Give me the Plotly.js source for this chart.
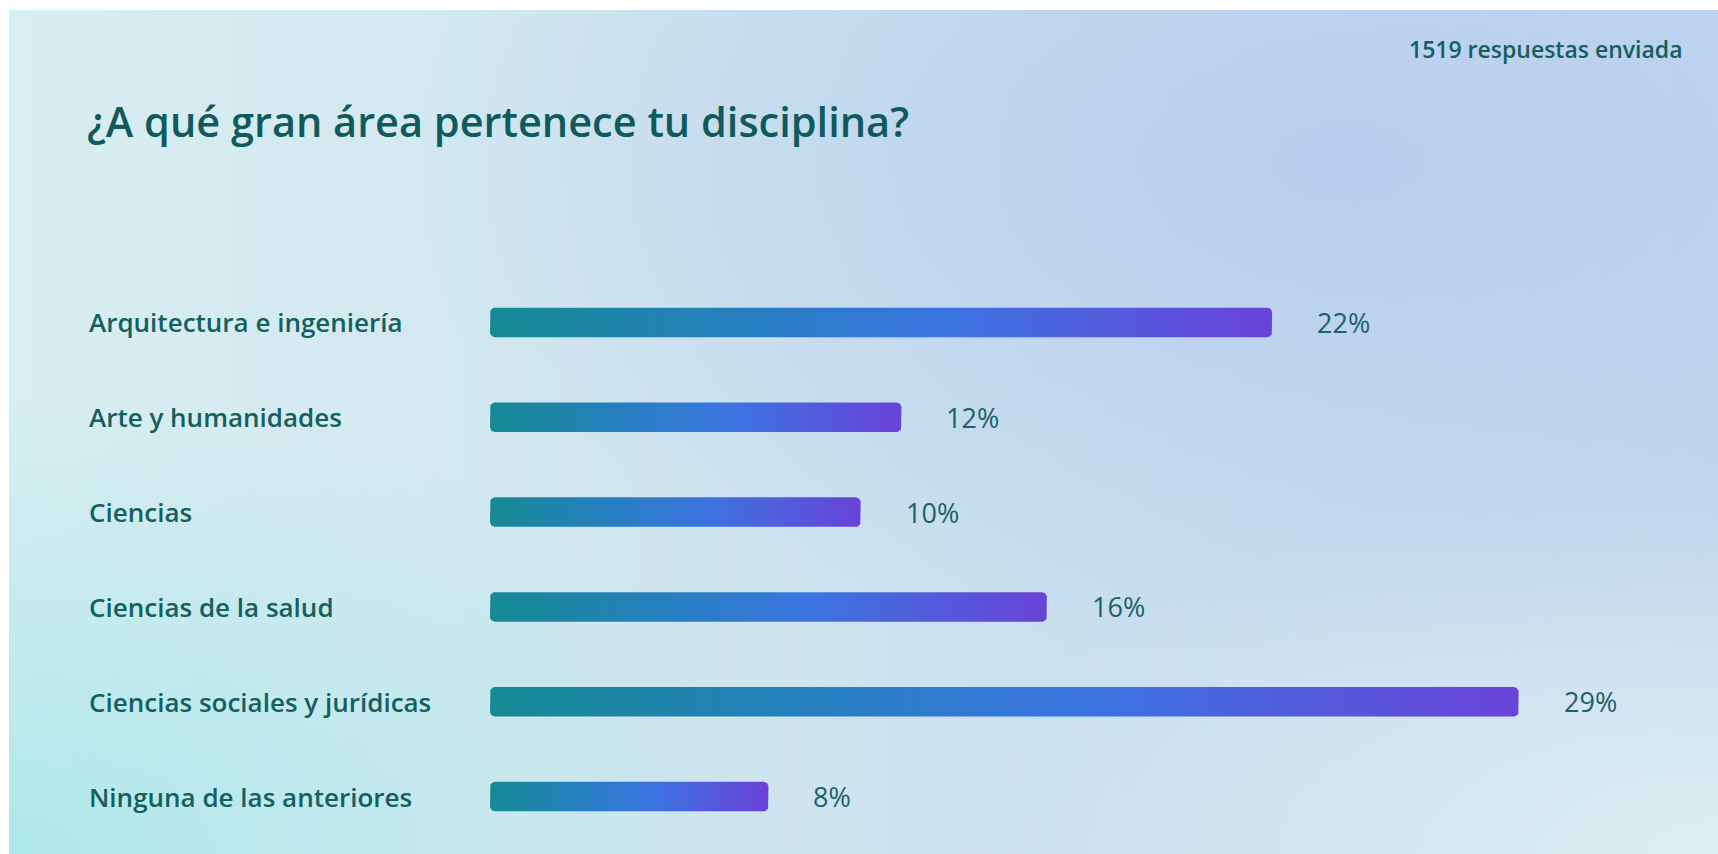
<!DOCTYPE html>
<html>
<head>
<meta charset="utf-8">
<script src="https://cdn.plot.ly/plotly-3.0.1.min.js"></script>
<style>
  html, body { margin: 0; padding: 0; background: #ffffff; }
  #wrap { position: relative; width: 1718px; height: 854px; overflow: hidden; }
  #bg {
    position: absolute; left: 9px; top: 10px; right: 0; bottom: 0;
    background:
      radial-gradient(ellipse 55% 60% at 78% 18%, rgba(184,206,238,1) 0%, rgba(184,206,238,0) 100%),
      radial-gradient(ellipse 45% 55% at 0% 100%, rgba(176,232,235,1) 0%, rgba(176,232,235,0) 100%),
      radial-gradient(ellipse 45% 45% at 100% 100%, rgba(222,238,242,1) 0%, rgba(222,238,242,0) 100%),
      linear-gradient(90deg, #d9eef1 0%, #cde3ee 50%, #c2d7ee 100%);
  }
  #chart { position: absolute; left: 0; top: 0; width: 1718px; height: 854px; }
</style>
</head>
<body>
<div id="wrap"><div id="bg"></div><div id="chart"></div></div>
<script>
// ---- data ----
const categories = [
  "Arquitectura e ingeniería",
  "Arte y humanidades",
  "Ciencias",
  "Ciencias de la salud",
  "Ciencias sociales y jurídicas",
  "Ninguna de las anteriores"
];
const percentages = [22.05, 11.6, 10.45, 15.7, 29.0, 7.85];
const titleText = "¿A qué gran área pertenece tu disciplina?";
const responsesText = "1519 respuestas enviada";

// ---- layout geometry ----
const W = 1718, H = 854;
const M = { l: 490, r: 0, t: 275, b: 10 };
const plotW = W - M.l - M.r;
const plotH = H - M.t - M.b;
const xMax = 34.62;
const yRange = [categories.length - 0.5, -0.5];
const pxX = plotW / xMax;
const pxY = plotH / categories.length;
const barHpx = 29.5;
const radiusPx = 5;

const textColor = "#14605f";
const fontFam = "'Open Sans', 'Noto Sans', sans-serif";

function roundedBar(val, yi) {
  const hh = (barHpx / 2) / pxY;
  const rx = radiusPx / pxX, ry = radiusPx / pxY;
  const x0 = 0, x1 = val, y0 = yi - hh, y1 = yi + hh;
  const xs = [], ys = [];
  const n = 8;
  const corner = (cx, cy, a0, a1) => {
    for (let k = 0; k <= n; k++) {
      const a = a0 + (a1 - a0) * k / n;
      xs.push(cx + rx * Math.cos(a));
      ys.push(cy + ry * Math.sin(a));
    }
  };
  corner(x1 - rx, y0 + ry, -Math.PI / 2, 0);
  corner(x1 - rx, y1 - ry, 0, Math.PI / 2);
  corner(x0 + rx, y1 - ry, Math.PI / 2, Math.PI);
  corner(x0 + rx, y0 + ry, Math.PI, 1.5 * Math.PI);
  xs.push(xs[0]); ys.push(ys[0]);
  return { xs, ys };
}

const gradScale = [
  [0, "#168a94"],
  [0.3, "#2580bd"],
  [0.58, "#3b74e1"],
  [1, "#6a42d8"]
];

const traces = percentages.map((v, i) => {
  const p = roundedBar(v, i);
  return {
    type: "scatter",
    mode: "lines",
    x: p.xs,
    y: p.ys,
    fill: "toself",
    line: { width: 0, color: "rgba(0,0,0,0)" },
    fillgradient: { type: "horizontal", colorscale: gradScale },
    hoverinfo: "skip",
    showlegend: false
  };
});

const annotations = [];
categories.forEach((c, i) => {
  annotations.push({
    xref: "paper", yref: "y",
    x: (87 - M.l) / plotW, y: i,
    xanchor: "left", yanchor: "middle",
    text: c, showarrow: false,
    font: { family: fontFam, size: 26, color: textColor, weight: 600 }
  });
  annotations.push({
    xref: "x", yref: "y",
    x: percentages[i], y: i,
    xanchor: "left", yanchor: "middle", xshift: 43,
    text: Math.round(percentages[i]) + "%", showarrow: false,
    font: { family: fontFam, size: 27, color: "#1d6168" }
  });
});
annotations.push({
  xref: "paper", yref: "paper",
  x: (1685 - M.l) / plotW, y: (H - M.b - 49) / plotH,
  xanchor: "right", yanchor: "middle",
  text: responsesText, showarrow: false,
  font: { family: fontFam, size: 23, color: textColor, weight: 600 }
});

const layout = {
  width: W, height: H,
  margin: M,
  paper_bgcolor: "rgba(0,0,0,0)",
  plot_bgcolor: "rgba(0,0,0,0)",
  title: {
    text: titleText,
    xref: "container", yref: "container",
    x: 87 / W, xanchor: "left",
    y: 1 - 122 / H, yanchor: "middle",
    font: { family: fontFam, size: 41.5, color: "#0f5a5c", weight: 600 }
  },
  xaxis: { range: [0, xMax], visible: false, fixedrange: true },
  yaxis: { range: yRange, visible: false, fixedrange: true },
  annotations: annotations,
  showlegend: false
};

Plotly.newPlot("chart", traces, layout, { displayModeBar: false, staticPlot: true });
</script>
</body>
</html>
